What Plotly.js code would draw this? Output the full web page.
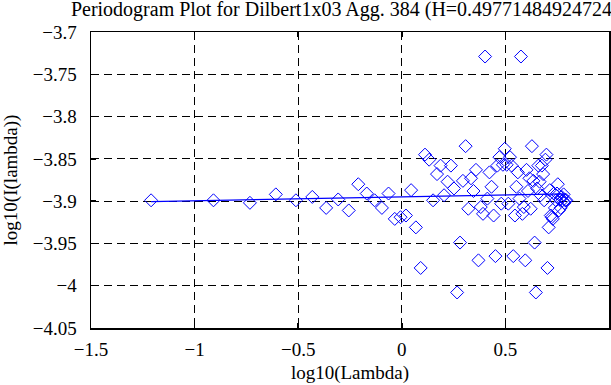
<!DOCTYPE html>
<html>
<head>
<meta charset="utf-8">
<script src="https://cdn.plot.ly/plotly-3.0.1.min.js"></script>
<style>html,body{margin:0;padding:0;background:#fff;}</style>
</head>
<body>
<div id="chart" style="width:611px;height:385px;"></div>
<script>
// log10 of the Fourier frequencies
const logLambda = [
 -1.210,-0.909,-0.733,-0.608,-0.511,-0.432,-0.365,-0.307,-0.256,-0.210,
 -0.169,-0.131,-0.096,-0.064,-0.034,-0.006,0.020,0.045,0.068,0.091,
 0.112,0.132,0.151,0.170,0.187,0.204,0.221,0.237,0.252,0.267,
 0.281,0.295,0.308,0.321,0.334,0.346,0.358,0.370,0.381,0.392,
 0.402,0.413,0.423,0.433,0.443,0.452,0.461,0.471,0.480,0.488,
 0.497,0.506,0.514,0.522,0.530,0.538,0.546,0.553,0.560,0.568,
 0.575,0.582,0.589,0.596,0.602,0.609,0.616,0.622,0.628,0.635,
 0.641,0.647,0.653,0.659,0.665,0.670,0.676,0.682,0.687,0.693,
 0.698,0.703,0.709,0.714,0.719,0.724,0.729,0.734,0.739,0.744,
 0.749,0.753,0.758,0.763,0.767,0.772,0.776,0.781,0.785,0.789,
 0.794
];
// log10 of the periodogram values
const logI = [
 -3.899,-3.899,-3.902,-3.892,-3.899,-3.895,-3.908,-3.898,-3.911,-3.880,
 -3.891,-3.899,-3.908,-3.891,-3.921,-3.919,-3.917,-3.887,-3.931,-3.979,
 -3.845,-3.851,-3.899,-3.868,-3.858,-3.893,-3.877,-3.858,-3.885,-4.008,
 -3.949,-3.876,-3.835,-3.909,-3.873,-3.888,-3.863,-3.970,-3.907,-3.915,
 -3.729,-3.897,-3.866,-3.883,-3.917,-3.965,-3.858,-3.848,-3.903,-3.857,
 -3.838,-3.857,-3.903,-3.848,-3.858,-3.965,-3.917,-3.883,-3.866,-3.897,
 -3.729,-3.915,-3.907,-3.970,-3.863,-3.888,-3.873,-3.909,-3.835,-3.876,
 -3.949,-4.008,-3.885,-3.858,-3.877,-3.893,-3.858,-3.868,-3.899,-3.851,
 -3.845,-3.979,-3.931,-3.887,-3.917,-3.919,-3.921,-3.891,-3.908,-3.899,
 -3.891,-3.880,-3.911,-3.898,-3.908,-3.895,-3.899,-3.892,-3.902,-3.899,
 -3.899
];
// least-squares fit line end points
const fitX = [-1.210, 0.794];
const fitY = [-3.9005, -3.8913];

const xTicks = [-1.5, -1, -0.5, 0, 0.5, 1];
const yTicks = [-4.05, -4, -3.95, -3.9, -3.85, -3.8, -3.75, -3.7];

const font = '"Liberation Serif", "Times New Roman", Times, serif';

const traces = [
  {
    x: logLambda, y: logI, type: 'scatter', mode: 'markers',
    marker: {symbol: 'diamond-open', size: 10, color: '#0000ff', line: {width: 1, color: '#0000ff'}},
    hoverinfo: 'skip'
  },
  {
    x: fitX, y: fitY, type: 'scatter', mode: 'lines',
    line: {color: '#0000ff', width: 1.2}, hoverinfo: 'skip'
  }
];

const axisCommon = {
  showline: true, linecolor: '#000', linewidth: 1.5, mirror: 'ticks',
  ticks: 'inside', ticklen: 5, tickwidth: 1.5, tickcolor: '#000',
  showgrid: true, gridcolor: '#000', gridwidth: 1, griddash: '8px,5px',
  zeroline: false, tickfont: {family: font, size: 19, color: '#000'},
  fixedrange: true
};

const layout = {
  width: 611, height: 385,
  font: {family: font, color: '#000'},
  margin: {l: 91, r: 2, t: 32, b: 57, pad: 0},
  paper_bgcolor: '#fff', plot_bgcolor: '#fff',
  showlegend: false,
  title: {
    text: 'Periodogram Plot for Dilbert1x03 Agg. 384 (H=0.49771484924724)',
    font: {family: font, size: 20, color: '#000'},
    x: 0.116, xref: 'container', xanchor: 'left',
    y: 0.994, yref: 'container', yanchor: 'top', pad: {t: 0, l: 0, r: 0, b: 0}
  },
  xaxis: Object.assign({}, axisCommon, {
    range: [-1.5, 1], tickvals: xTicks,
    ticktext: xTicks.map(v => (v < 0 ? '\u2212' : '') + String(Math.abs(v))),
    title: {text: 'log10(Lambda)', font: {family: font, size: 19, color: '#000'}, standoff: 6},
    ticklabelstandoff: 4
  }),
  yaxis: Object.assign({}, axisCommon, {
    range: [-4.05, -3.7], tickvals: yTicks,
    ticktext: yTicks.map(v => (v < 0 ? '\u2212' : '') + String(Math.abs(v))),
    title: {text: 'log10(I(lambda))', font: {family: font, size: 19, color: '#000'}, standoff: 12},
    ticklabelstandoff: 9
  })
};

Plotly.newPlot('chart', traces, layout, {staticPlot: true, displayModeBar: false});
</script>
</body>
</html>
